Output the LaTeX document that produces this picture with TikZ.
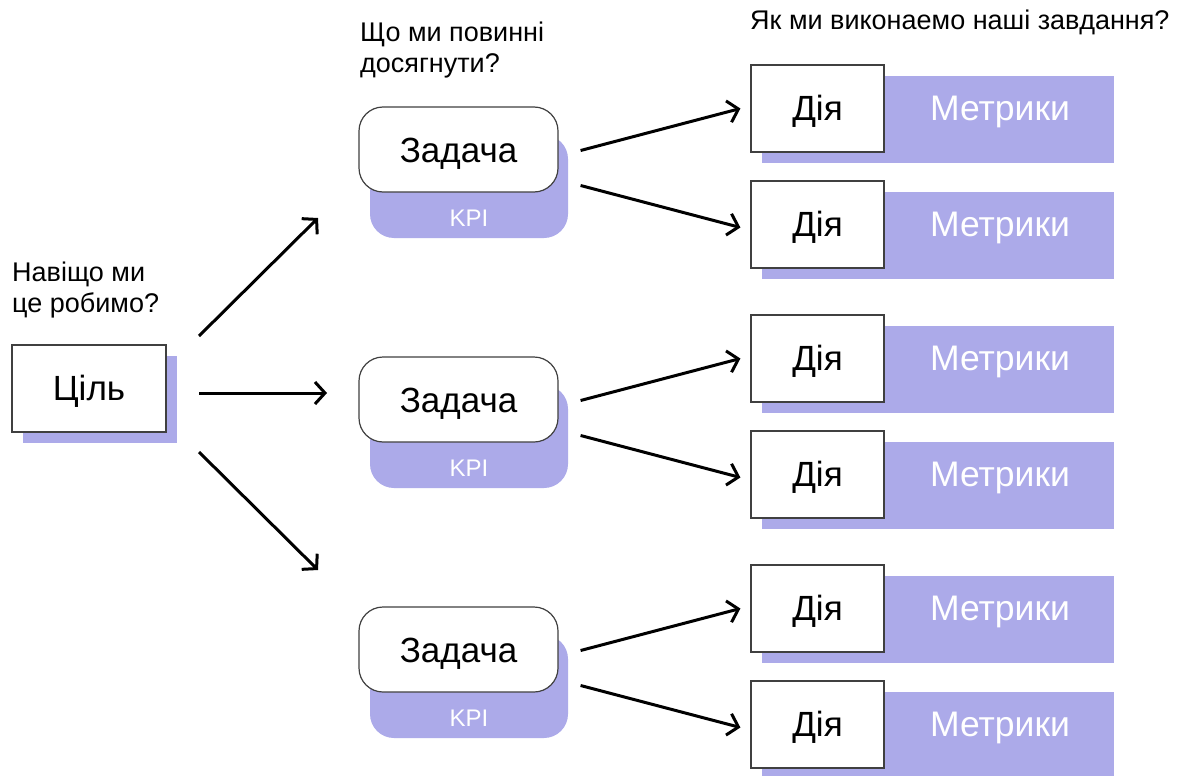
\documentclass[tikz,border=0pt]{standalone}
\usepackage{fontspec}
\setmainfont{Liberation Sans}
\usetikzlibrary{arrows.meta,calc}
\definecolor{lav}{HTML}{ACAAE9}
\definecolor{edge}{HTML}{404040}
\tikzset{
  lbl/.style={anchor=base west, inner sep=0, font=\fontsize{27}{31}\selectfont, align=left},
  bigtext/.style={font=\fontsize{35}{40}\selectfont, text height=25pt, text depth=2pt},
  goalbox/.style={draw=edge, line width=1.2pt, fill=white, minimum width=154pt, minimum height=87pt, inner sep=0, bigtext},
  taskbox/.style={draw=edge, line width=1.2pt, fill=white, rounded corners=24pt, minimum width=199pt, minimum height=85pt, inner sep=0, bigtext, text height=26pt, text depth=0pt},
  kpibox/.style={fill=lav, rounded corners=24pt, minimum width=198pt, minimum height=103pt, inner sep=0},
  kpitext/.style={text=white, inner sep=0, anchor=base, font=\fontsize{24}{28}\selectfont},
  actbox/.style={draw=edge, line width=1.2pt, fill=white, minimum width=133pt, minimum height=87pt, inner sep=0, bigtext},
  metbox/.style={fill=lav, minimum width=352pt, minimum height=87pt, inner sep=0},
  mettext/.style={text=white, inner sep=0, anchor=base, font=\fontsize{35.5}{40}\selectfont},
  conn/.style={line width=3pt, -{Straight Barb[length=10pt, width=22pt, line width=3pt]}},
}
\begin{document}
\begin{tikzpicture}[x=1pt, y=-1pt]
\useasboundingbox[fill=white] (0,0) rectangle (1181,776);

% header labels
\node[lbl] (q1) at (12,312) {Навіщо ми\\це робимо?};
\node[lbl] (q2) at (360,73) {Що ми повинні\\досягнути?};
\node[lbl] (q3) at (750,30) {Як ми виконаемо наші завдання?};

% goal
\fill[lav] (23,356) rectangle (177,443);
\node[goalbox] (goal) at (89,388.5) {Ціль};

% tasks
\foreach \i/\dy in {1/0, 2/250, 3/500}{
  \node[kpibox] (kpi\i) at (469,186.5+\dy) {};
  \node[kpitext] (kpil\i) at (469,226+\dy) {KPI};
  \node[taskbox] (task\i) at (458.5,149.5+\dy) {Задача};
}

% actions and metrics
\foreach \j/\y in {1/65, 2/181, 3/315, 4/431, 5/565, 6/681}{
  \node[metbox] (met\j) at (938,\y+54.5) {};
  \node[mettext] (metl\j) at (1000,\y+55) {Метрики};
  \node[actbox] (act\j) at (817.5,\y+43.5) {Дія};
}

% goal arrows
\coordinate (g1) at (199,336);
\coordinate (g2) at (199,393);
\coordinate (g3) at (199,452);
\coordinate (t1) at (318,218);
\coordinate (t2) at (327,393);
\coordinate (t3) at (318,570);
\draw[conn] (g1) -- (t1);
\draw[conn] (g2) -- (t2);
\draw[conn] (g3) -- (t3);

% task arrows
\foreach \i/\a/\b in {1/1/2, 2/3/4, 3/5/6}{
  \draw[conn] ($(task\i.east)+(22,1)$) -- ($(act\a.west)+(-10,0)$);
  \draw[conn] ($(task\i.east)+(22,36)$) -- ($(act\b.west)+(-10,3)$);
}
\end{tikzpicture}
\end{document}
